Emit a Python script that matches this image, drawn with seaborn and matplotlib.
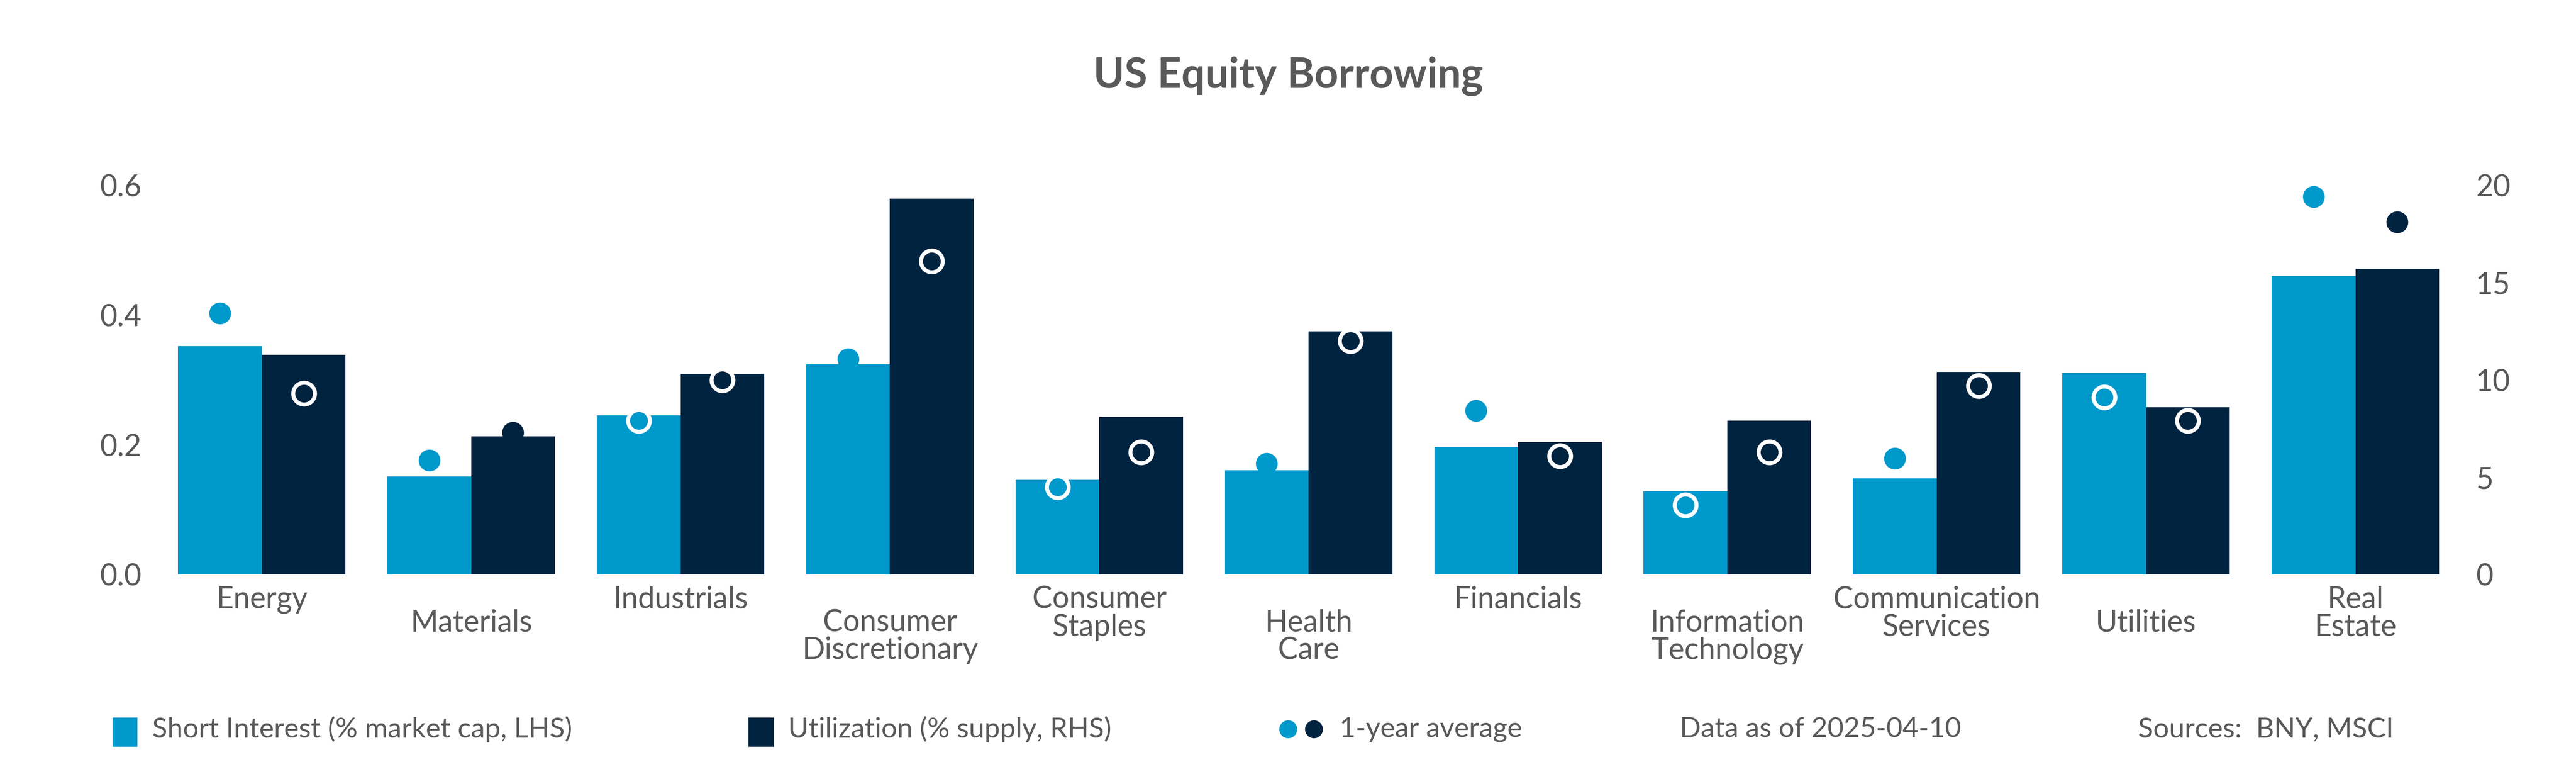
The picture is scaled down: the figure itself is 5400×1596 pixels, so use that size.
import numpy as np
import pandas as pd
import seaborn as sns
import matplotlib
matplotlib.use('Agg')
import matplotlib.pyplot as plt
from matplotlib.lines import Line2D
from matplotlib.patches import Rectangle
import matplotlib.transforms as mtransforms

# ---- data ----
sectors = ["Energy", "Materials", "Industrials", "Consumer\nDiscretionary", "Consumer\nStaples",
           "Health\nCare", "Financials", "Information\nTechnology", "Communication\nServices",
           "Utilities", "Real\nEstate"]
short_interest = [0.352, 0.151, 0.245, 0.324, 0.146, 0.161, 0.197, 0.128, 0.148, 0.311, 0.460]
short_interest_avg = [0.403, 0.176, 0.237, 0.332, 0.135, 0.171, 0.253, 0.107, 0.179, 0.273, 0.582]
utilization = [11.3, 7.1, 10.3, 19.3, 8.1, 12.5, 6.8, 7.9, 10.4, 8.6, 15.7]
utilization_avg = [9.3, 7.3, 10.0, 16.1, 6.3, 12.0, 6.1, 6.3, 9.7, 7.9, 18.1]
left_ticks = [0.0, 0.2, 0.4, 0.6]
right_ticks = [0, 5, 10, 15, 20]

LIGHT = "#0099CC"
DARK = "#00233F"
GREY = "#595959"
plt.rcParams["font.family"] = "Lato"

k = 0.6 / 20.0  # RHS -> LHS scale
df = pd.DataFrame({
    "sector": sectors * 2,
    "series": ["si"] * len(sectors) + ["ut"] * len(sectors),
    "value": short_interest + [u * k for u in utilization],
})

fig = plt.figure(figsize=(18, 5.32), dpi=300)
ax = fig.add_axes([0.061, 0.246, 0.894, 0.528])
sns.barplot(data=df, x="sector", y="value", hue="series", palette=[LIGHT, DARK],
            dodge=True, width=0.8, gap=0, saturation=1, legend=False, ax=ax)

# 1-year average dots
xs = np.arange(len(sectors))
for off, avg, bar, col in [(-0.2, short_interest_avg, short_interest, LIGHT),
                           (0.2, [u * k for u in utilization_avg], [u * k for u in utilization], DARK)]:
    for x, a, b in zip(xs, avg, bar):
        inside = a <= b
        sns.scatterplot(x=[x + off], y=[a], ax=ax, s=120, color=col, zorder=5,
                        edgecolor="white" if inside else col, linewidth=2.0 if inside else 0)

ax.set_xlim(-0.5, len(sectors) - 0.5)
ax.set_ylim(0, 0.62)
ax.set_yticks(left_ticks)
ax.set_yticklabels([f"{t:.1f}" for t in left_ticks])
ax.set_xticks(xs)
ax.set_xticklabels([])
ax.set_xlabel("")
ax.set_ylabel("")
ax.tick_params(length=0, labelsize=15, labelcolor=GREY, pad=8)
sns.despine(ax=ax, left=True, bottom=True)

sec = ax.secondary_yaxis("right", functions=(lambda y: y / k, lambda y: y * k))
sec.set_yticks(right_ticks)
sec.tick_params(length=0, labelsize=15, labelcolor=GREY, pad=8)
sec.spines["right"].set_visible(False)

trans = mtransforms.blended_transform_factory(ax.transData, ax.transAxes)
for i, s in enumerate(sectors):
    y = -0.028 if i % 2 == 0 else -0.085
    ax.text(i, y, s, transform=trans, ha="center", va="top", fontsize=15, color=GREY,
            linespacing=1.0)

fig.text(0.5, 0.90, "US Equity Borrowing", ha="center", va="center", fontsize=21,
         fontweight="bold", color=GREY)

# legend row
ly = 0.043
fig.add_artist(Rectangle((0.044, ly - 0.022), 0.009, 0.036, color=LIGHT, transform=fig.transFigure))
fig.text(0.059, ly, "Short Interest (% market cap, LHS)", va="center", fontsize=14, color=GREY)
fig.add_artist(Rectangle((0.291, ly - 0.022), 0.009, 0.036, color=DARK, transform=fig.transFigure))
fig.text(0.306, ly, "Utilization (% supply, RHS)", va="center", fontsize=14, color=GREY)
fig.add_artist(Line2D([0.5], [ly], marker="o", color=LIGHT, markersize=8, transform=fig.transFigure))
fig.add_artist(Line2D([0.51], [ly], marker="o", color=DARK, markersize=8, transform=fig.transFigure))
fig.text(0.52, ly, "1-year average", va="center", fontsize=14, color=GREY)
fig.text(0.652, ly, "Data as of 2025-04-10", va="center", fontsize=14, color=GREY)
fig.text(0.83, ly, "Sources:  BNY, MSCI", va="center", fontsize=14, color=GREY)

fig.savefig("out.png", dpi=300, facecolor="white")
